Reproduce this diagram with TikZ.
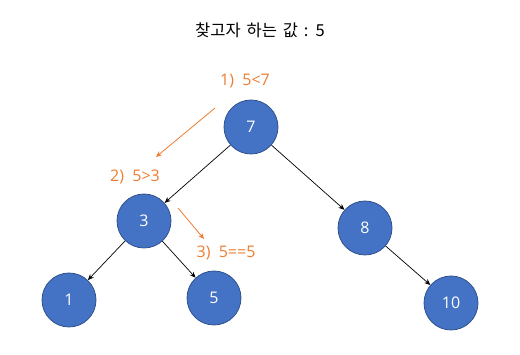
\documentclass[tikz,border=0pt]{standalone}
\usepackage{fontspec}
\setmainfont{Open Sans}
\newfontfamily\krfont[WordSpace=1.6]{Noto Sans CJK KR}
\usetikzlibrary{arrows.meta}
\definecolor{nodeblue}{HTML}{4472C4}
\definecolor{nodeedge}{HTML}{2F528F}
\definecolor{stepor}{HTML}{ED7D31}
\begin{document}
\begin{tikzpicture}[x=1pt,y=-1pt,
  bnode/.style={circle,fill=nodeblue,draw=nodeedge,line width=0.8pt,minimum size=54pt,inner sep=0pt,text=white,font=\fontsize{16}{18}\selectfont},
  edge/.style={draw=black,line width=0.7pt,-{Stealth[length=6pt,width=5pt]}},
  oarrow/.style={draw=stepor,line width=0.8pt,-{Stealth[length=6pt,width=5pt]}},
  olabel/.style={text=stepor,font=\fontsize{16}{18}\selectfont,inner sep=0pt}]
\useasboundingbox (0,0) rectangle (520,355);
\node[font=\krfont\fontsize{16.5}{19}\selectfont,inner sep=0pt] (title) at (260,30) {찾고자 하는 값 : 5};
\node[bnode] (n7) at (251,127) {7};
\node[bnode] (n3) at (144,221) {3};
\node[bnode] (n8) at (365,228) {8};
\node[bnode] (n1) at (69,300) {1};
\node[bnode] (n5) at (214,298) {5};
\node[bnode] (n10) at (451,303) {10};
\draw[edge] (n7) -- (n3);
\draw[edge] (n7) -- (n8);
\draw[edge] (n3) -- (n1);
\draw[edge] (n3) -- (n5);
\draw[edge] (n8) -- (n10);
\node[olabel] (l1) at (245,81) {1)~ 5<7};
\node[olabel] (l2) at (135,177) {2)~ 5>3};
\node[olabel] (l3) at (226,253) {3)~ 5==5};
\coordinate (a1s) at (215,108);
\coordinate (a1e) at (156,157);
\coordinate (a2s) at (178,208);
\coordinate (a2e) at (204,239);
\draw[oarrow] (a1s) -- (a1e);
\draw[oarrow] (a2s) -- (a2e);
\end{tikzpicture}
\end{document}
